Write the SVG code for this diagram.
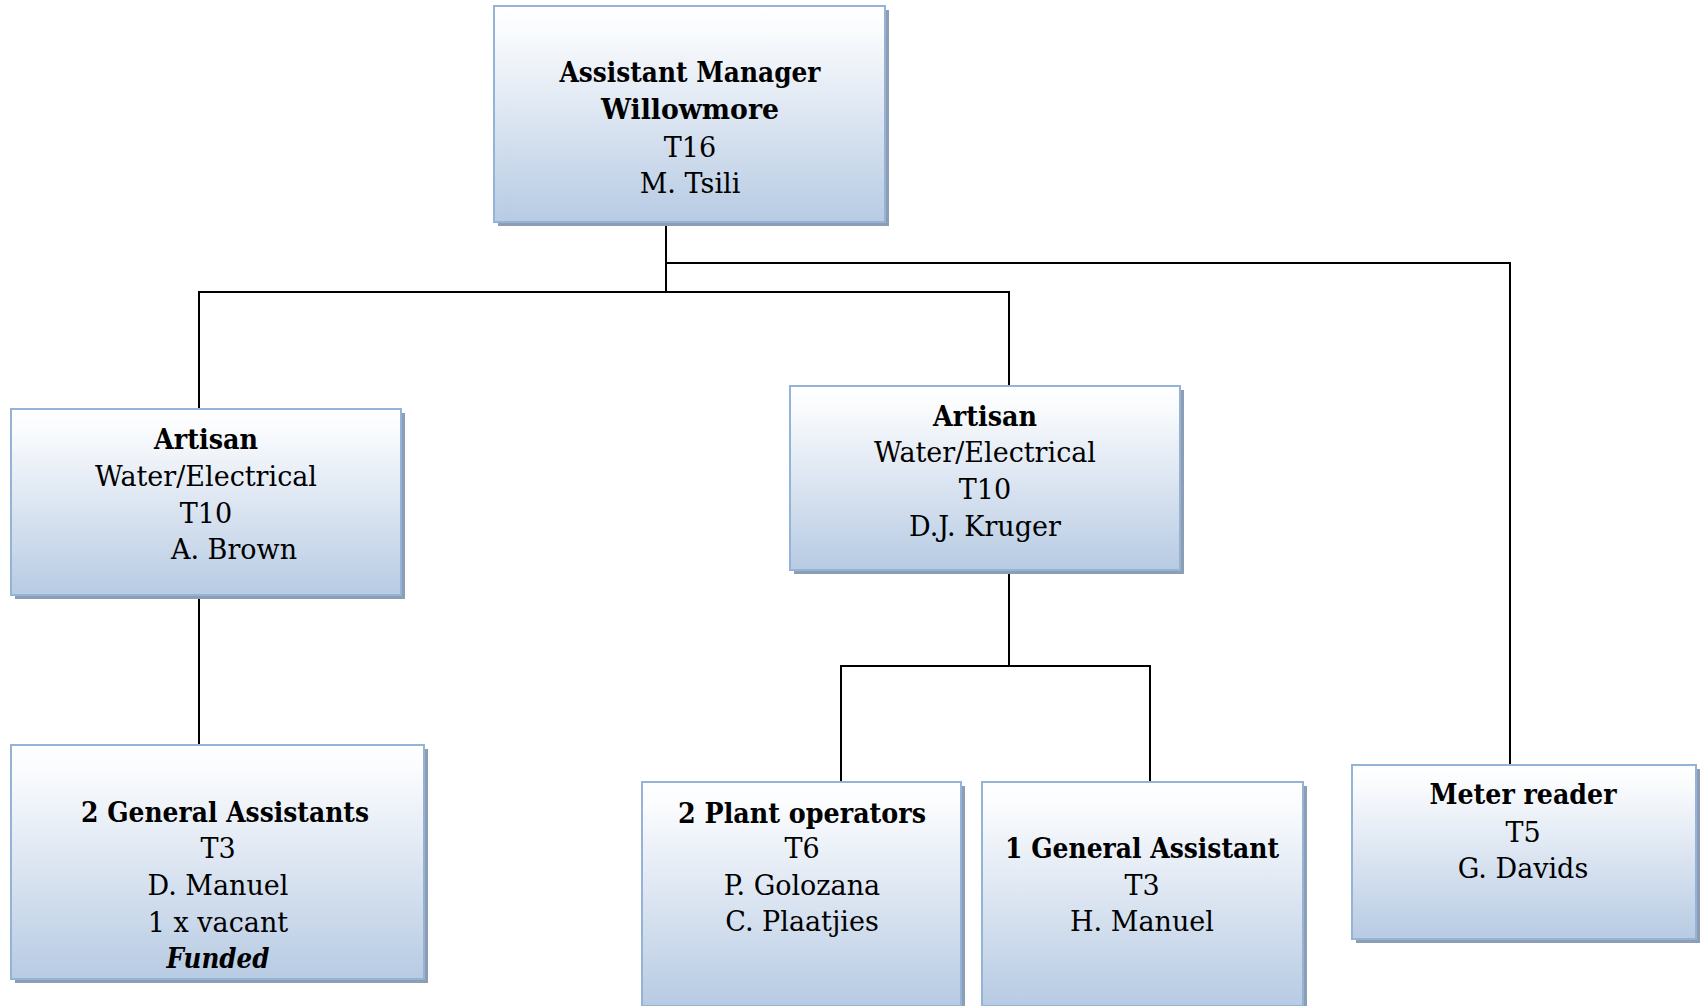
<svg xmlns="http://www.w3.org/2000/svg" width="1701" height="1006" viewBox="0 0 1701 1006">
  <defs>
    <linearGradient id="boxFill" x1="0" y1="0" x2="0" y2="1">
      <stop offset="0" stop-color="#ffffff"/>
      <stop offset="0.12" stop-color="#f9fbfd"/>
      <stop offset="0.5" stop-color="#dde6f2"/>
      <stop offset="1" stop-color="#b7cbe3"/>
    </linearGradient>
  </defs>
  <style>
    .bg { fill: #ffffff; }
    .shadow { fill: #8d9db4; }
    .box { fill: url(#boxFill); stroke: #95b3d7; stroke-width: 2; }
    .wire { fill: none; stroke: #000000; stroke-width: 2; }
    text { font-family: "DejaVu Serif", "Liberation Serif", serif; font-size: 27px; fill: #000000; text-anchor: middle; }
    .b { font-weight: bold; }
    .bi { font-weight: bold; font-style: italic; }
  </style>

  <rect class="bg" x="0" y="0" width="1701" height="1006"/>

  <!-- reporting lines -->
  <g id="connectors">
    <path class="wire" d="M666 223 V292"/>
    <path class="wire" d="M666 263 H1510 V766"/>
    <path class="wire" d="M199 410 V292 H1009 V387"/>
    <path class="wire" d="M199 596 V746"/>
    <path class="wire" d="M1009 571 V666"/>
    <path class="wire" d="M841 783 V666 H1150 V783"/>
  </g>

  <g id="assistant-manager">
    <rect class="shadow" x="498" y="10" width="391" height="216"/>
    <rect class="box" x="494" y="6" width="391" height="216"/>
    <text class="b" x="690" y="82" textLength="261" lengthAdjust="spacingAndGlyphs">Assistant Manager</text>
    <text class="b" x="690" y="119" textLength="178" lengthAdjust="spacingAndGlyphs">Willowmore</text>
    <text x="690" y="157">T16</text>
    <text x="690" y="193">M. Tsili</text>
  </g>

  <g id="artisan-brown">
    <rect class="shadow" x="15" y="413" width="390" height="186"/>
    <rect class="box" x="11" y="409" width="390" height="186"/>
    <text class="b" x="206" y="449" textLength="104" lengthAdjust="spacingAndGlyphs">Artisan</text>
    <text x="206" y="486">Water/Electrical</text>
    <text x="206" y="523">T10</text>
    <text x="234" y="559">A. Brown</text>
  </g>

  <g id="artisan-kruger">
    <rect class="shadow" x="794" y="390" width="390" height="184"/>
    <rect class="box" x="790" y="386" width="390" height="184"/>
    <text class="b" x="985" y="426" textLength="104" lengthAdjust="spacingAndGlyphs">Artisan</text>
    <text x="985" y="462">Water/Electrical</text>
    <text x="985" y="499">T10</text>
    <text x="985" y="536">D.J. Kruger</text>
  </g>

  <g id="general-assistants">
    <rect class="shadow" x="15" y="749" width="413" height="234"/>
    <rect class="box" x="11" y="745" width="413" height="234"/>
    <text class="b" x="225" y="822" textLength="288" lengthAdjust="spacingAndGlyphs">2 General Assistants</text>
    <text x="218" y="858">T3</text>
    <text x="218" y="895">D. Manuel</text>
    <text x="218" y="932">1 x vacant</text>
    <text class="bi" x="218" y="968" textLength="103" lengthAdjust="spacingAndGlyphs">Funded</text>
  </g>

  <g id="plant-operators">
    <rect class="shadow" x="646" y="786" width="319" height="224"/>
    <rect class="box" x="642" y="782" width="319" height="224"/>
    <text class="b" x="802" y="823" textLength="248" lengthAdjust="spacingAndGlyphs">2 Plant operators</text>
    <text x="802" y="858">T6</text>
    <text x="802" y="895">P. Golozana</text>
    <text x="802" y="931">C. Plaatjies</text>
  </g>

  <g id="general-assistant">
    <rect class="shadow" x="986" y="786" width="321" height="224"/>
    <rect class="box" x="982" y="782" width="321" height="224"/>
    <text class="b" x="1142" y="858" textLength="274" lengthAdjust="spacingAndGlyphs">1 General Assistant</text>
    <text x="1142" y="895">T3</text>
    <text x="1142" y="931">H. Manuel</text>
  </g>

  <g id="meter-reader">
    <rect class="shadow" x="1356" y="769" width="344" height="174"/>
    <rect class="box" x="1352" y="765" width="344" height="174"/>
    <text class="b" x="1523" y="804" textLength="187" lengthAdjust="spacingAndGlyphs">Meter reader</text>
    <text x="1523" y="842">T5</text>
    <text x="1523" y="878">G. Davids</text>
  </g>
</svg>
